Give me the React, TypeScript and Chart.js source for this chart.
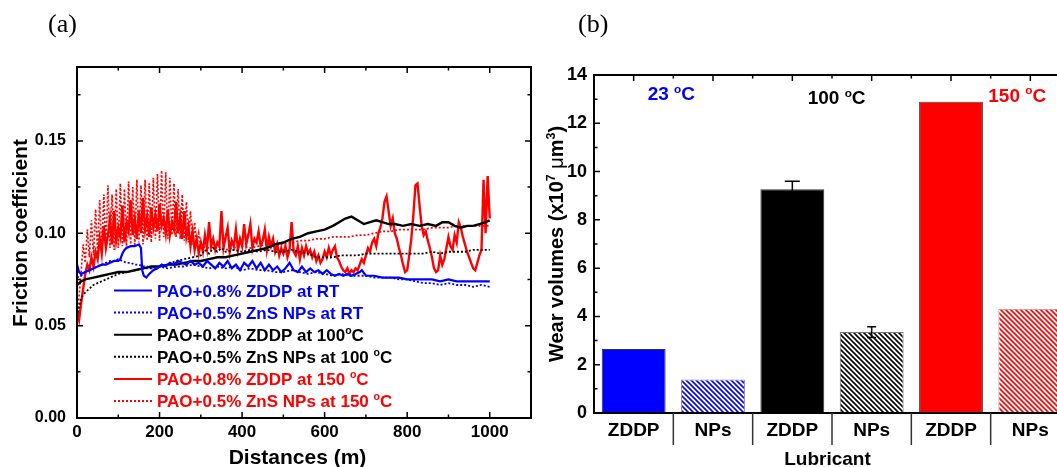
import React, { useEffect, useRef } from 'react';
import { Chart, registerables } from 'chart.js';

Chart.register(...registerables);

const FONT = '"Liberation Sans", Arial, sans-serif';
const SERIF = '"Liberation Serif", "Times New Roman", serif';
const BLUE = '#0000ff';
const RED = '#ff0000';
const BLACK = '#000000';

// ---------------- Panel (a): friction coefficient vs distance ----------------
const panelALabel = '(a)';
const panelBLabel = '(b)';
const frictionXTitle = 'Distances (m)';
const frictionYTitle = 'Friction coefficient';

const seriesLabels = [
  'PAO+0.8% ZDDP at RT',
  'PAO+0.5% ZnS NPs at RT',
  'PAO+0.8% ZDDP at 100°C',
  'PAO+0.5% ZnS NPs at 100 °C',
  'PAO+0.8% ZDDP at 150 °C',
  'PAO+0.5% ZnS NPs at 150 °C',
];

function range(start: number, end: number, step: number): number[] {
  const out: number[] = [];
  for (let v = start; v <= end + 1e-9; v += step) out.push(v);
  return out;
}

const distZddpRT = [
  0, 5, 10, 20, 30, 40, 50, 60, 70, 80,
  90, 100, 105, 110, 115, 120, 130, 140, 150, 155,
  158, 162, 168, 175, 185, 195, 205, 215, 225, 235,
  245, 255, 265, 275, 285, 295, 305, 315, 325, 335,
  345, 355, 365, 375, 385, 395, 405, 415, 425, 435,
  445, 455, 465, 475, 485, 495, 505, 515, 525, 535,
  545, 555, 565, 575, 585, 595, 605, 615, 625, 635,
  645, 655, 665, 675, 685, 690, 700, 720, 740, 760,
  780, 800, 820, 840, 860, 880, 900, 920, 940, 960,
  980, 1000,
];
const cofZddpRT = [
  0.083, 0.079, 0.078, 0.079, 0.080, 0.081, 0.082, 0.083, 0.083, 0.084,
  0.085, 0.085, 0.086, 0.089, 0.091, 0.092, 0.093, 0.093, 0.094, 0.092,
  0.080, 0.077, 0.076, 0.078, 0.080, 0.081, 0.083, 0.082, 0.084, 0.083,
  0.085, 0.084, 0.083, 0.085, 0.083, 0.084, 0.082, 0.085, 0.083, 0.081,
  0.084, 0.082, 0.085, 0.081, 0.083, 0.080, 0.084, 0.082, 0.085, 0.081,
  0.084, 0.080, 0.083, 0.080, 0.082, 0.079, 0.081, 0.084, 0.080, 0.079,
  0.082, 0.079, 0.081, 0.079, 0.080, 0.078, 0.080, 0.078, 0.077, 0.078,
  0.077, 0.078, 0.077, 0.078, 0.079, 0.080, 0.077, 0.077, 0.076, 0.076,
  0.076, 0.075, 0.075, 0.075, 0.075, 0.074, 0.075, 0.074, 0.074, 0.074,
  0.074, 0.074,
];

const distNpsRT = [
  0, 10, 20, 30, 40, 50, 60, 70, 80, 90,
  100, 110, 120, 130, 140, 150, 160, 170, 180,
  200, 220, 240, 260, 280, 300, 320, 340, 360, 380,
  400, 420, 440, 460, 480, 500, 520, 540, 560, 580,
  600, 620, 640, 660, 680, 700, 720, 740, 760, 780,
  800, 820, 840, 860, 880, 900, 920, 940, 960, 980,
  1000,
];
const cofNpsRT = [
  0.076, 0.077, 0.079, 0.080, 0.081, 0.082, 0.083, 0.084, 0.085, 0.085,
  0.086, 0.085, 0.084, 0.084, 0.083, 0.083, 0.082, 0.082, 0.081,
  0.082, 0.081, 0.082, 0.082, 0.083, 0.082, 0.081, 0.082, 0.081, 0.082,
  0.080, 0.081, 0.080, 0.080, 0.079, 0.079, 0.080, 0.079, 0.078, 0.079,
  0.078, 0.077, 0.078, 0.077, 0.077, 0.077, 0.076, 0.076, 0.076, 0.075,
  0.075, 0.074, 0.073, 0.073, 0.072, 0.073, 0.072, 0.072, 0.071, 0.072,
  0.071,
];

const distZddp100 = [
  0, 10, 20, 40, 60, 80, 100, 120, 140, 160,
  180, 200, 220, 240, 260, 280, 300, 320, 340, 360,
  380, 400, 420, 440, 460, 480, 500, 520, 540, 560,
  580, 600, 620, 635, 650, 665, 680, 695, 710, 725,
  740, 755, 770, 790, 810, 830, 850, 870, 885, 900,
  915, 930, 945, 960, 975, 990, 1000,
];
const cofZddp100 = [
  0.072, 0.074, 0.075, 0.076, 0.077, 0.078, 0.079, 0.079, 0.080, 0.081,
  0.082, 0.082, 0.083, 0.083, 0.084, 0.085, 0.085, 0.086, 0.087, 0.087,
  0.088, 0.089, 0.090, 0.091, 0.092, 0.094, 0.095, 0.097, 0.098, 0.100,
  0.101, 0.102, 0.104, 0.106, 0.108, 0.109, 0.107, 0.105, 0.106, 0.107,
  0.106, 0.105, 0.105, 0.104, 0.105, 0.104, 0.105, 0.104, 0.106, 0.106,
  0.104, 0.103, 0.104, 0.104, 0.105, 0.106, 0.107,
];

const distNps100 = [
  0, 5, 10, 20, 30, 40, 50, 60, 70, 80,
  90, 100, 120, 140, 160, 180, 200, 220, 240, 260,
  280, 300, 310, 320, 330, 340, 350, 360, 380, 400,
  420, 440, 460, 480, 500, 520, 540, 560, 580, 600,
  620, 640, 660, 680, 700, 720, 740, 760, 780, 800,
  820, 840, 860, 880, 900, 920, 940, 960, 980, 1000,
];
const cofNps100 = [
  0.055, 0.060, 0.065, 0.068, 0.070, 0.072, 0.073, 0.074, 0.075, 0.076,
  0.077, 0.078, 0.079, 0.080, 0.081, 0.081, 0.082, 0.083, 0.085, 0.086,
  0.087, 0.088, 0.091, 0.089, 0.092, 0.090, 0.092, 0.090, 0.091, 0.090,
  0.091, 0.090, 0.091, 0.090, 0.090, 0.091, 0.090, 0.089, 0.087, 0.087,
  0.087, 0.088, 0.088, 0.088, 0.089, 0.089, 0.089, 0.089, 0.089, 0.089,
  0.089, 0.089, 0.090, 0.089, 0.090, 0.090, 0.090, 0.091, 0.091, 0.091,
];

// sampled every 5 m
const distZddp150 = range(0, 1000, 5);
const cofZddp150 = [
  0.058, 0.053, 0.062, 0.070, 0.078, 0.083, 0.080, 0.087, 0.082, 0.090,
  0.086, 0.097, 0.089, 0.104, 0.092, 0.099, 0.108, 0.094, 0.112, 0.096,
  0.103, 0.098, 0.115, 0.095, 0.106, 0.101, 0.118, 0.099, 0.108, 0.097,
  0.112, 0.100, 0.119, 0.102, 0.109, 0.098, 0.114, 0.103, 0.110, 0.101,
  0.116, 0.104, 0.108, 0.100, 0.113, 0.099, 0.106, 0.102, 0.117, 0.100,
  0.109, 0.097, 0.112, 0.098, 0.104, 0.093, 0.101, 0.091, 0.097, 0.089,
  0.095, 0.090, 0.099, 0.092, 0.106, 0.093, 0.097, 0.091, 0.095, 0.093,
  0.112, 0.092, 0.098, 0.103, 0.090, 0.096, 0.093, 0.102, 0.091, 0.097,
  0.093, 0.105, 0.094, 0.099, 0.105, 0.092, 0.097, 0.095, 0.101, 0.093,
  0.096, 0.102, 0.091, 0.098, 0.093, 0.097, 0.090, 0.094, 0.088, 0.092,
  0.089, 0.093, 0.087, 0.091, 0.106, 0.090, 0.088, 0.093, 0.086, 0.092,
  0.088, 0.093, 0.089, 0.091, 0.087, 0.090, 0.085, 0.088, 0.084, 0.086,
  0.090, 0.087, 0.092, 0.088, 0.091, 0.093, 0.087, 0.085, 0.082, 0.080,
  0.079, 0.081, 0.078, 0.080, 0.079, 0.081, 0.080, 0.083, 0.086, 0.084,
  0.088, 0.092, 0.090, 0.095, 0.097, 0.093, 0.100, 0.103, 0.108, 0.117,
  0.120, 0.112, 0.104, 0.108, 0.100, 0.097, 0.092, 0.088, 0.083, 0.079,
  0.080, 0.088, 0.097, 0.110, 0.126, 0.127, 0.115, 0.104, 0.099, 0.101,
  0.096, 0.092, 0.087, 0.081, 0.079, 0.080, 0.088, 0.083, 0.086, 0.092,
  0.098, 0.093, 0.091, 0.099, 0.095, 0.106, 0.103, 0.098, 0.094, 0.090,
  0.087, 0.084, 0.081, 0.080, 0.084, 0.088, 0.091, 0.129, 0.100, 0.131,
  0.108,
];

const distNps150 = [...range(0, 300, 5), ...range(320, 1000, 20)];
const cofNps150 = [
  0.055, 0.066, 0.079, 0.094, 0.084, 0.102, 0.087, 0.107, 0.088, 0.113,
  0.089, 0.118, 0.090, 0.121, 0.091, 0.126, 0.092, 0.121, 0.091, 0.124,
  0.092, 0.127, 0.093, 0.124, 0.092, 0.128, 0.094, 0.125, 0.093, 0.129,
  0.095, 0.126, 0.094, 0.129, 0.096, 0.127, 0.095, 0.130, 0.097, 0.132,
  0.096, 0.134, 0.098, 0.133, 0.097, 0.130, 0.099, 0.127, 0.098, 0.124,
  0.097, 0.121, 0.096, 0.117, 0.095, 0.112, 0.094, 0.106, 0.093, 0.100,
  0.093,
  0.092, 0.093, 0.091, 0.092, 0.093, 0.092, 0.093, 0.094, 0.093, 0.094,
  0.095, 0.096, 0.096, 0.097, 0.097, 0.098, 0.098, 0.098, 0.099, 0.099,
  0.100, 0.101, 0.101, 0.102, 0.102, 0.102, 0.102, 0.103, 0.103, 0.103,
  0.104, 0.104, 0.104, 0.104, 0.104,
];

// ---------------- Panel (b): wear volumes ----------------
const lubricantLabels = ['ZDDP', 'NPs', 'ZDDP', 'NPs', 'ZDDP', 'NPs'];
const wearVolumes = [2.65, 1.39, 9.27, 3.35, 12.89, 4.32];
const wearErrors = [0, 0, 0.33, 0.22, 0, 0];
const temperatureLabels = ['23 °C', '100 °C', '150 °C'];
const wearYTitle = 'Wear volumes (x10^7 μm^3)';
const wearXTitle = 'Lubricant';

// ---------------- helpers ----------------
type Seg = { t: string; sup: boolean; normal: boolean };
function parseRich(s: string): Seg[] {
  const segs: Seg[] = [];
  let cur = '';
  const flush = () => {
    if (cur) segs.push({ t: cur, sup: false, normal: false });
    cur = '';
  };
  for (let i = 0; i < s.length; i++) {
    const ch = s[i];
    if (ch === '°') {
      flush();
      segs.push({ t: 'o', sup: true, normal: false });
    } else if (ch === '^') {
      flush();
      segs.push({ t: s[i + 1], sup: true, normal: false });
      i++;
    } else if (ch === 'μ') {
      flush();
      segs.push({ t: 'μ', sup: false, normal: true });
    } else cur += ch;
  }
  flush();
  return segs;
}

function drawRich(
  ctx: CanvasRenderingContext2D,
  s: string,
  x: number,
  y: number,
  size: number,
  color: string,
  align: 'left' | 'center'
) {
  const segs = parseRich(s);
  const fontFor = (sg: Seg) =>
    `${sg.normal ? 'normal' : 'bold'} ${sg.sup ? size * 0.62 : size}px ${FONT}`;
  let total = 0;
  for (const sg of segs) {
    ctx.font = fontFor(sg);
    total += ctx.measureText(sg.t).width;
  }
  let cx = align === 'center' ? x - total / 2 : x;
  const base = y + size * 0.36;
  ctx.fillStyle = color;
  ctx.textBaseline = 'alphabetic';
  ctx.textAlign = 'left';
  for (const sg of segs) {
    ctx.font = fontFor(sg);
    ctx.fillText(sg.t, cx, sg.sup ? base - size * 0.4 : base);
    cx += ctx.measureText(sg.t).width;
  }
}

function makeHatch(color: string): CanvasPattern | string {
  const s = 5;
  const c = document.createElement('canvas');
  c.width = s;
  c.height = s;
  const g = c.getContext('2d');
  if (!g) return color;
  g.fillStyle = '#ffffff';
  g.fillRect(0, 0, s, s);
  g.strokeStyle = color;
  g.lineWidth = 1.6;
  g.beginPath();
  g.moveTo(-1, -1);
  g.lineTo(s + 1, s + 1);
  g.moveTo(-1, s - 1);
  g.lineTo(1, s + 1);
  g.moveTo(s - 1, -1);
  g.lineTo(s + 1, 1);
  g.stroke();
  return g.createPattern(c, 'repeat') || color;
}

const toPoints = (xs: number[], ys: number[]) => xs.map((d, i) => ({ x: d, y: ys[i] }));

const panelAPlugin = {
  id: 'panelA',
  afterDraw(chart: any) {
    const { ctx, chartArea, scales } = chart;
    const { left, right, top, bottom } = chartArea;
    const x = scales.x;
    const y = scales.y;
    ctx.save();
    ctx.strokeStyle = '#000';
    ctx.lineWidth = 2;
    ctx.setLineDash([]);
    ctx.strokeRect(left, top, right - left, bottom - top);
    ctx.lineWidth = 1.5;
    ctx.beginPath();
    for (let i = 0; i <= 11; i++) {
      const px = x.getPixelForValue(i * 100);
      const len = i % 2 === 0 ? 6 : 3.5;
      ctx.moveTo(px, bottom);
      ctx.lineTo(px, bottom - len);
      ctx.moveTo(px, top);
      ctx.lineTo(px, top + len);
    }
    for (let i = 0; i <= 7; i++) {
      const py = y.getPixelForValue(i * 0.025);
      const len = i % 2 === 0 ? 6 : 3.5;
      ctx.moveTo(left, py);
      ctx.lineTo(left + len, py);
      ctx.moveTo(right, py);
      ctx.lineTo(right - len, py);
    }
    ctx.stroke();

    // legend
    chart.data.datasets.forEach((ds: any, i: number) => {
      const ry = 290.5 + i * 22.1;
      ctx.save();
      ctx.strokeStyle = ds.borderColor;
      ctx.lineWidth = 2;
      ctx.setLineDash(ds.borderDash || []);
      ctx.beginPath();
      ctx.moveTo(114, ry);
      ctx.lineTo(152, ry);
      ctx.stroke();
      ctx.restore();
      drawRich(ctx, ds.label, 157, ry, 17, ds.borderColor, 'left');
    });

    // titles
    drawRich(ctx, frictionXTitle, 297.5, 456.5, 21, '#000', 'center');
    ctx.save();
    ctx.translate(19.6, 233);
    ctx.rotate(-Math.PI / 2);
    drawRich(ctx, frictionYTitle, 0, 0, 21, '#000', 'center');
    ctx.restore();

    ctx.font = `26px ${SERIF}`;
    ctx.fillStyle = '#000';
    ctx.textAlign = 'left';
    ctx.textBaseline = 'middle';
    ctx.fillText(panelALabel, 48, 25);
    ctx.restore();
  },
};

const panelBPlugin = {
  id: 'panelB',
  afterDatasetsDraw(chart: any) {
    const { ctx, scales } = chart;
    const y = scales.y;
    const meta = chart.getDatasetMeta(0);
    ctx.save();
    ctx.strokeStyle = '#000';
    ctx.lineWidth = 1.5;
    ctx.beginPath();
    wearErrors.forEach((err, i) => {
      if (!err) return;
      const bx = meta.data[i].x;
      const y1 = y.getPixelForValue(wearVolumes[i] + err);
      const y2 = y.getPixelForValue(wearVolumes[i] - err);
      const cap = i % 2 === 0 ? 15 : 9;
      ctx.moveTo(bx, y1);
      ctx.lineTo(bx, y2);
      ctx.moveTo(bx - cap / 2, y1);
      ctx.lineTo(bx + cap / 2, y1);
      ctx.moveTo(bx - cap / 2, y2);
      ctx.lineTo(bx + cap / 2, y2);
    });
    ctx.stroke();
    ctx.restore();
  },
  afterDraw(chart: any) {
    const { ctx, chartArea, scales } = chart;
    const { left, right, top, bottom } = chartArea;
    const x = scales.x;
    const y = scales.y;
    ctx.save();
    ctx.strokeStyle = '#000';
    ctx.lineWidth = 2;
    ctx.strokeRect(left, top, right - left, bottom - top);
    ctx.lineWidth = 1.5;
    ctx.beginPath();
    for (let i = 0; i <= 14; i++) {
      const py = y.getPixelForValue(i);
      const len = i % 2 === 0 ? 6 : 3.5;
      ctx.moveTo(left, py);
      ctx.lineTo(left + len, py);
    }
    for (let i = 0; i < lubricantLabels.length; i++) {
      const cx = x.getPixelForValue(i);
      ctx.moveTo(cx, top);
      ctx.lineTo(cx, top + 6);
      const bx = x.getPixelForValue(i + 0.5);
      ctx.moveTo(bx, top);
      ctx.lineTo(bx, top + 3.5);
    }
    ctx.stroke();
    // category separators below axis
    ctx.strokeStyle = '#333';
    ctx.lineWidth = 1.5;
    ctx.beginPath();
    for (let i = 1; i <= lubricantLabels.length; i++) {
      const bx = x.getPixelForValue(i - 0.5);
      ctx.moveTo(bx, bottom);
      ctx.lineTo(bx, bottom + 32);
    }
    ctx.stroke();

    // temperature annotations
    const tempColors = [BLUE, BLACK, RED];
    const tempX = [111.7, 271.7, 452.3];
    const tempY = [93.3, 97.3, 95];
    temperatureLabels.forEach((t, i) => drawRich(ctx, t, tempX[i], tempY[i], 19, tempColors[i], 'left'));

    // titles
    drawRich(ctx, wearXTitle, 291.5, 458, 19, '#000', 'center');
    ctx.save();
    ctx.translate(20, 244);
    ctx.rotate(-Math.PI / 2);
    drawRich(ctx, wearYTitle, 0, 0, 20, '#000', 'center');
    ctx.restore();

    ctx.font = `26px ${SERIF}`;
    ctx.fillStyle = '#000';
    ctx.textAlign = 'left';
    ctx.textBaseline = 'middle';
    ctx.fillText(panelBLabel, 42, 25);
    ctx.restore();
  },
};

export default function App() {
  const refA = useRef<HTMLCanvasElement>(null);
  const refB = useRef<HTMLCanvasElement>(null);

  useEffect(() => {
    Chart.defaults.font.family = FONT;
    const tickFont = (size: number) => ({ family: FONT, size, weight: 'bold' as const });

    const chartA = new Chart(refA.current as HTMLCanvasElement, {
      type: 'line',
      data: {
        datasets: [
          { label: seriesLabels[0], data: toPoints(distZddpRT, cofZddpRT), borderColor: BLUE, borderWidth: 2.2, order: 1 },
          { label: seriesLabels[1], data: toPoints(distNpsRT, cofNpsRT), borderColor: BLUE, borderWidth: 1.8, borderDash: [2, 2], order: 2 },
          { label: seriesLabels[2], data: toPoints(distZddp100, cofZddp100), borderColor: BLACK, borderWidth: 2.4, order: 3 },
          { label: seriesLabels[3], data: toPoints(distNps100, cofNps100), borderColor: BLACK, borderWidth: 1.8, borderDash: [2, 2], order: 4 },
          { label: seriesLabels[4], data: toPoints(distZddp150, cofZddp150), borderColor: RED, borderWidth: 2.4, order: 5 },
          { label: seriesLabels[5], data: toPoints(distNps150, cofNps150), borderColor: RED, borderWidth: 1.7, borderDash: [2, 2], order: 6 },
        ] as any,
      },
      options: {
        animation: false,
        responsive: false,
        layout: { padding: { top: 67, right: 5, left: 0, bottom: 0 } },
        plugins: { legend: { display: false }, tooltip: { enabled: false } },
        elements: { point: { radius: 0 }, line: { tension: 0 } },
        scales: {
          x: {
            type: 'linear',
            min: 0,
            max: 1100,
            grid: { display: false, drawTicks: false },
            border: { display: false },
            ticks: {
              stepSize: 200,
              includeBounds: false,
              autoSkip: false,
              maxRotation: 0,
              color: '#000',
              padding: 4,
              font: tickFont(17),
              callback: (v: any) => (Number(v) <= 1000 ? String(v) : ''),
            },
            afterFit: (s: any) => {
              s.height = 49;
            },
          },
          y: {
            min: 0,
            max: 0.19,
            grid: { display: false, drawTicks: false },
            border: { display: false },
            ticks: {
              stepSize: 0.05,
              includeBounds: false,
              color: '#000',
              padding: 11,
              font: tickFont(16),
              callback: (v: any) => Number(v).toFixed(2),
            },
            afterFit: (s: any) => {
              s.width = 77;
            },
          },
        },
      } as any,
      plugins: [panelAPlugin],
    });

    const chartB = new Chart(refB.current as HTMLCanvasElement, {
      type: 'bar',
      data: {
        labels: lubricantLabels,
        datasets: [
          {
            data: wearVolumes,
            backgroundColor: [BLUE, makeHatch(BLUE), BLACK, makeHatch(BLACK), RED, makeHatch(RED)] as any,
            borderColor: ['#333', '#888', '#333', '#777', '#444', '#999'],
            borderWidth: 1,
            barPercentage: 0.805,
            categoryPercentage: 1,
          },
        ],
      },
      options: {
        animation: false,
        responsive: false,
        layout: { padding: { top: 75, right: 10, left: 0, bottom: 0 } },
        plugins: { legend: { display: false }, tooltip: { enabled: false } },
        scales: {
          x: {
            grid: { display: false, drawTicks: false },
            border: { display: false },
            ticks: { color: '#000', padding: 6, autoSkip: false, maxRotation: 0, font: tickFont(19) },
            afterFit: (s: any) => {
              s.height = 54;
            },
          },
          y: {
            min: 0,
            max: 14,
            grid: { display: false, drawTicks: false },
            border: { display: false },
            ticks: { stepSize: 2, color: '#000', padding: 7, font: tickFont(18) },
            afterFit: (s: any) => {
              s.width = 58;
            },
          },
        },
      } as any,
      plugins: [panelBPlugin],
    });

    return () => {
      chartA.destroy();
      chartB.destroy();
    };
  }, []);

  return (
    <div
      style={{
        position: 'fixed',
        left: 0,
        top: 0,
        width: 1057,
        height: 467,
        overflow: 'hidden',
        background: '#ffffff',
      }}
    >
      <canvas
        ref={refA}
        width={536}
        height={467}
        style={{ position: 'absolute', left: 0, top: 0, width: 536, height: 467 }}
      />
      <canvas
        ref={refB}
        width={544}
        height={467}
        style={{ position: 'absolute', left: 536, top: 0, width: 544, height: 467 }}
      />
    </div>
  );
}
